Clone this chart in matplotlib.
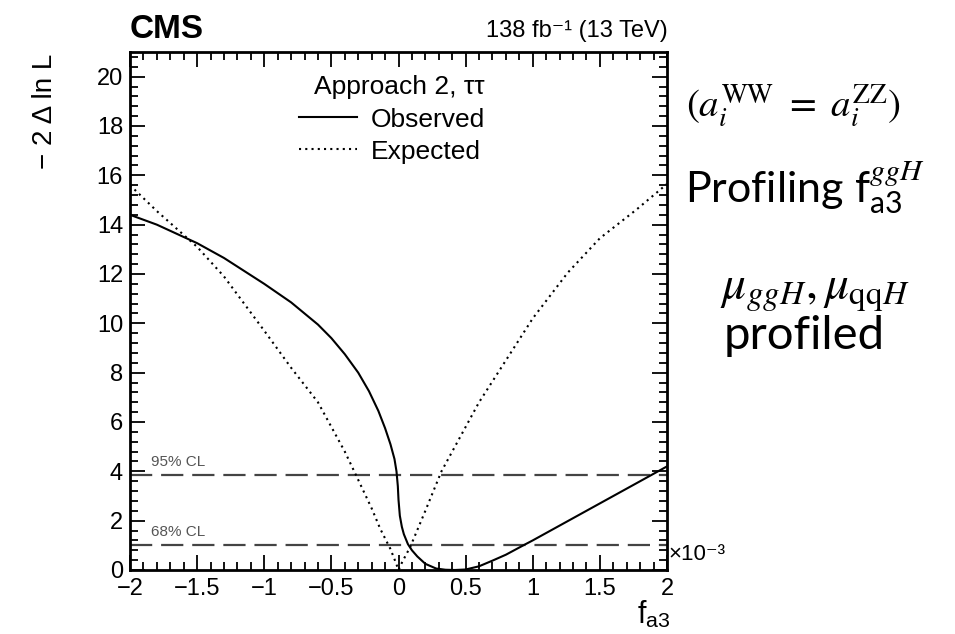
import matplotlib
matplotlib.use("Agg")
import matplotlib.pyplot as plt
from matplotlib.ticker import MultipleLocator, FuncFormatter

# ---------------- data (x in units of 1e-3) ----------------
obs_x = [-2.0, -1.8, -1.5, -1.3, -1.0, -0.8, -0.6, -0.5, -0.4, -0.3, -0.22,
         -0.15, -0.1, -0.06, -0.03, -0.015, -0.005, 0.0, 0.01, 0.025, 0.04,
         0.07, 0.1, 0.14, 0.2, 0.28, 0.35, 0.42, 0.5, 0.6, 0.7, 0.8, 0.93,
         1.0, 1.2, 1.4, 1.6, 1.8, 2.0]
obs_y = [14.4, 14.0, 13.25, 12.65, 11.6, 10.85, 9.95, 9.4, 8.75, 8.0, 7.25,
         6.45, 5.75, 5.1, 4.5, 4.0, 3.4, 2.85, 2.2, 1.75, 1.45,
         1.05, 0.8, 0.55, 0.25, 0.06, 0.01, 0.0, 0.02, 0.15, 0.38, 0.62, 1.0,
         1.2, 1.8, 2.4, 3.0, 3.6, 4.2]

exp_x = [-2.0, -1.8, -1.5, -1.3, -1.0, -0.8, -0.6, -0.4, -0.33, -0.2, -0.136,
         -0.06, -0.02, 0.0, 0.03, 0.087, 0.2, 0.32, 0.45, 0.6, 0.8, 1.0,
         1.26, 1.5, 1.77, 2.0]
exp_y = [15.6, 14.55, 13.1, 11.9, 9.7, 8.2, 6.8, 4.8, 4.0, 2.5, 1.67,
         0.85, 0.3, 0.0, 0.35, 0.93, 2.4, 4.0, 5.3, 6.8, 8.5, 10.2,
         12.05, 13.45, 14.6, 15.65]

cl_levels = [1.0, 3.84]
cl_labels = ["68% CL", "95% CL"]

xticks = [-2, -1.5, -1, -0.5, 0, 0.5, 1, 1.5, 2]
yticks = [0, 2, 4, 6, 8, 10, 12, 14, 16, 18, 20]

# ---------------- style ----------------
plt.rcParams["font.family"] = ["Liberation Sans", "DejaVu Sans"]
plt.rcParams["mathtext.fontset"] = "custom"
plt.rcParams["mathtext.rm"] = "Liberation Sans"
plt.rcParams["mathtext.sf"] = "Lato"
plt.rcParams["mathtext.it"] = "STIXGeneral:italic"
plt.rcParams["mathtext.bf"] = "Liberation Sans:bold"

W, H = 955, 634
fig = plt.figure(figsize=(W / 100, H / 100), dpi=100)

def fx(px):
    return px / W

def fy(py):
    return 1 - py / H

left, right, top, bottom = 130, 667, 52, 570
ax = fig.add_axes([fx(left), fy(bottom), fx(right - left), (bottom - top) / H])

ax.plot(obs_x, obs_y, color="black", lw=1.5, ls="-", label="Observed")
ax.plot(exp_x, exp_y, color="black", lw=1.5, ls=(0, (1, 2)), label="Expected")

for lvl, lab in zip(cl_levels, cl_labels):
    ax.axhline(lvl, color="#444444", lw=1.6, ls=(0, (10, 4)), zorder=1)
    ax.text(-1.84, lvl + 0.25, lab, fontsize=11, color="#555555",
            ha="left", va="bottom")

ax.set_xlim(-2, 2)
ax.set_ylim(0, 21)
ax.set_xticks(xticks)
ax.set_yticks(yticks)
ax.xaxis.set_minor_locator(MultipleLocator(0.1))
ax.yaxis.set_minor_locator(MultipleLocator(0.4))
fmt = FuncFormatter(lambda v, p: f"{v:g}".replace("-", "\u2212"))
ax.xaxis.set_major_formatter(fmt)
ax.yaxis.set_major_formatter(fmt)
ax.tick_params(which="both", direction="in", top=True, right=True,
               width=1.3, labelsize=17)
ax.tick_params(which="major", length=11)
ax.tick_params(axis="x", which="major", pad=6)
ax.tick_params(axis="y", which="major", pad=5)
ax.tick_params(which="minor", length=6)
for s in ax.spines.values():
    s.set_linewidth(2.0)

leg = ax.legend(loc="upper left", bbox_to_anchor=(0.315, 0.955),
                frameon=False, fontsize=19, title="Approach 2, \u03c4\u03c4",
                title_fontsize=19, handlelength=2.2, handletextpad=0.5,
                labelspacing=0.3, borderpad=0.0, borderaxespad=0.0)
leg._legend_box.align = "right"
leg._legend_box.sep = 6

# ---------------- header & axis labels ----------------
fig.text(fx(130), fy(30), "CMS", fontsize=24, fontweight="bold",
         ha="left", va="center")
fig.text(fx(668), fy(31), "138 fb\u207b\u00b9 (13 TeV)", fontsize=17,
         ha="right", va="center")
fig.text(fx(45), fy(54), "\u2212 2 \u0394 ln L", fontsize=20, rotation=90,
         ha="center", va="top")
fig.text(fx(668), fy(555), "\u00d710\u207b\u00b3", fontsize=16,
         ha="left", va="center")
fig.text(fx(654), fy(615), r"$\mathrm{f}_{\mathrm{a3}}$", fontsize=22,
         ha="center", va="center", math_fontfamily="custom")

# ---------------- annotations on the right ----------------
fig.text(fx(686), fy(106), r"$(a_i^{\mathrm{WW}}\ =\ a_i^{\mathrm{ZZ}})$",
         fontsize=28, ha="left", va="center", math_fontfamily="stix",
         color="black")
fig.text(fx(685), fy(188), r"Profiling f$_{\mathsf{a3}}^{ggH}$",
         fontsize=31, ha="left", va="center", family="Lato",
         math_fontfamily="custom")
fig.text(fx(720), fy(292), r"$\mu_{ggH},\mu_{\mathrm{qq}H}$",
         fontsize=34, ha="left", va="center", math_fontfamily="stix")
fig.text(fx(724), fy(336), "profiled", fontsize=34, ha="left",
         va="center", family="Lato")

fig.savefig("out.png", dpi=100)
